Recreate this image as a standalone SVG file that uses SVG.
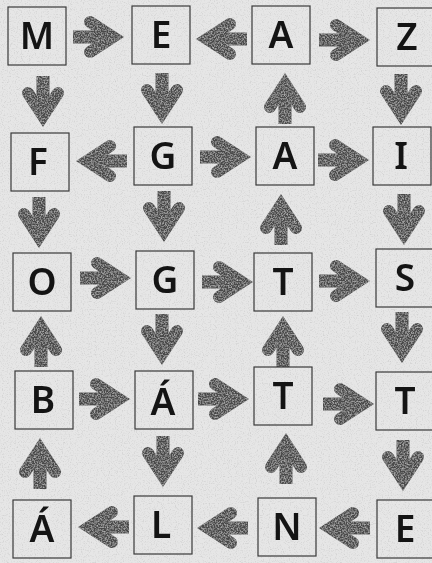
<svg xmlns="http://www.w3.org/2000/svg" xmlns:xlink="http://www.w3.org/1999/xlink" width="432" height="563" viewBox="0 0 432 563">
<style>
.box{fill:none;stroke:#3a3a3a;stroke-width:1.2}
.lt{font-family:"Noto Sans","DejaVu Sans",sans-serif;font-weight:600;font-size:37px;fill:#141414;text-anchor:middle}
</style>
<defs>
<filter id="grain" x="0" y="0" width="100%" height="100%">
<feTurbulence type="fractalNoise" baseFrequency="0.85" numOctaves="2" seed="4"/>
<feColorMatrix type="matrix" values="0 0 0 0 0.35  0 0 0 0 0.35  0 0 0 0 0.35  2.4 0 0 0 -1.2"/>
</filter>
<filter id="tex" x="-10%" y="-10%" width="120%" height="120%">
<feTurbulence type="fractalNoise" baseFrequency="0.7" numOctaves="2" seed="7" result="n"/>
<feColorMatrix in="n" type="matrix" values="0 0 0 0 0.62  0 0 0 0 0.62  0 0 0 0 0.62  1.6 0 0 0 -0.65" result="s"/>
<feComposite in="s" in2="SourceGraphic" operator="in" result="sp"/>
<feMerge><feMergeNode in="SourceGraphic"/><feMergeNode in="sp"/></feMerge>
</filter>
<g id="ar">
<rect x="-51" y="-6.5" width="38" height="13" fill="#4a4a4a"/>
<path d="M -34 -15 L -11 0 L -34 15" fill="none" stroke="#4a4a4a" stroke-width="12" stroke-linecap="round" stroke-linejoin="miter"/>
</g>
</defs>
<rect width="432" height="563" fill="#e6e6e6"/>
<rect width="432" height="563" fill="#000" filter="url(#grain)" opacity="0.35"/>

<g id="connectors" filter="url(#tex)">
<use xlink:href="#ar" transform="translate(124,37)"/>
<use xlink:href="#ar" transform="translate(370,40)"/>
<use xlink:href="#ar" transform="translate(251,157)"/>
<use xlink:href="#ar" transform="translate(369,160)"/>
<use xlink:href="#ar" transform="translate(131,278)"/>
<use xlink:href="#ar" transform="translate(253,282)"/>
<use xlink:href="#ar" transform="translate(370,281)"/>
<use xlink:href="#ar" transform="translate(130,399)"/>
<use xlink:href="#ar" transform="translate(249,399)"/>
<use xlink:href="#ar" transform="translate(374,404)"/>
<use xlink:href="#ar" transform="translate(196,39) rotate(180)"/>
<use xlink:href="#ar" transform="translate(76,161) rotate(180)"/>
<use xlink:href="#ar" transform="translate(78,527) rotate(180)"/>
<use xlink:href="#ar" transform="translate(197,528) rotate(180)"/>
<use xlink:href="#ar" transform="translate(319,528) rotate(180)"/>
<use xlink:href="#ar" transform="translate(43,127) rotate(90)"/>
<use xlink:href="#ar" transform="translate(162,124) rotate(90)"/>
<use xlink:href="#ar" transform="translate(401,125) rotate(90)"/>
<use xlink:href="#ar" transform="translate(39,248) rotate(90)"/>
<use xlink:href="#ar" transform="translate(164,242) rotate(90)"/>
<use xlink:href="#ar" transform="translate(404,245) rotate(90)"/>
<use xlink:href="#ar" transform="translate(162,365) rotate(90)"/>
<use xlink:href="#ar" transform="translate(402,363) rotate(90)"/>
<use xlink:href="#ar" transform="translate(163,487) rotate(90)"/>
<use xlink:href="#ar" transform="translate(403,491) rotate(90)"/>
<use xlink:href="#ar" transform="translate(285,73) rotate(-90)"/>
<use xlink:href="#ar" transform="translate(281,194) rotate(-90)"/>
<use xlink:href="#ar" transform="translate(41,316) rotate(-90)"/>
<use xlink:href="#ar" transform="translate(283,316) rotate(-90)"/>
<use xlink:href="#ar" transform="translate(40,438) rotate(-90)"/>
<use xlink:href="#ar" transform="translate(286,433) rotate(-90)"/>
</g>

<g id="n-M"><rect class="box" x="8" y="7" width="58" height="58"/><text class="lt" x="37" y="49">M</text></g>
<g id="n-E1"><rect class="box" x="132" y="6" width="58" height="58"/><text class="lt" x="161" y="48">E</text></g>
<g id="n-A1"><rect class="box" x="252" y="6" width="58" height="58"/><text class="lt" x="281" y="48">A</text></g>
<g id="n-Z"><rect class="box" x="377" y="8" width="58" height="58"/><text class="lt" x="407" y="50">Z</text></g>

<g id="n-F"><rect class="box" x="11" y="133" width="58" height="58"/><text class="lt" x="38" y="175">F</text></g>
<g id="n-G1"><rect class="box" x="134" y="127" width="58" height="58"/><text class="lt" x="163" y="169">G</text></g>
<g id="n-A2"><rect class="box" x="256" y="127" width="58" height="58"/><text class="lt" x="285" y="169">A</text></g>
<g id="n-I"><rect class="box" x="373" y="127" width="58" height="58"/><text class="lt" x="401" y="169">I</text></g>

<g id="n-O"><rect class="box" x="13" y="253" width="58" height="58"/><text class="lt" x="42" y="295">O</text></g>
<g id="n-G2"><rect class="box" x="136" y="251" width="58" height="58"/><text class="lt" x="165" y="293">G</text></g>
<g id="n-T1"><rect class="box" x="254" y="253" width="58" height="58"/><text class="lt" x="283" y="295">T</text></g>
<g id="n-S"><rect class="box" x="376" y="249" width="58" height="58"/><text class="lt" x="405" y="291">S</text></g>

<g id="n-B"><rect class="box" x="15" y="371" width="58" height="58"/><text class="lt" x="43" y="413">B</text></g>
<g id="n-AA1"><rect class="box" x="135" y="371" width="58" height="58"/><text class="lt" x="163" y="415">Á</text></g>
<g id="n-T2"><rect class="box" x="254" y="367" width="58" height="58"/><text class="lt" x="283" y="409">T</text></g>
<g id="n-T3"><rect class="box" x="376" y="372" width="58" height="58"/><text class="lt" x="405" y="414">T</text></g>

<g id="n-AA2"><rect class="box" x="13" y="500" width="58" height="58"/><text class="lt" x="42" y="542">Á</text></g>
<g id="n-L"><rect class="box" x="134" y="496" width="58" height="58"/><text class="lt" x="161" y="538">L</text></g>
<g id="n-N"><rect class="box" x="258" y="498" width="58" height="58"/><text class="lt" x="287" y="540">N</text></g>
<g id="n-E2"><rect class="box" x="377" y="500" width="58" height="58"/><text class="lt" x="405" y="542">E</text></g>
</svg>
